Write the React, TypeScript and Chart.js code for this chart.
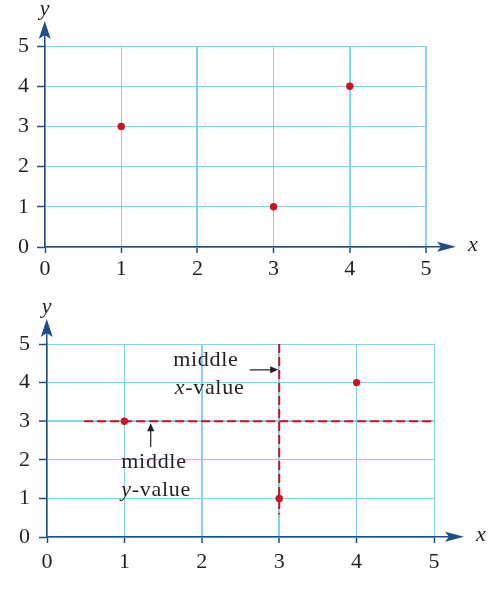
import React, { useEffect, useRef } from "react";
import { Chart, registerables } from "chart.js";

Chart.register(...registerables);

// ---- data ----
const xTicks = [0, 1, 2, 3, 4, 5];
const yTicks = [0, 1, 2, 3, 4, 5];
const pointX = [1, 3, 4];
const pointY = [3, 1, 4];
const middleX = 3; // middle x-value
const middleY = 3; // middle y-value
const middleXLineY = [5, 0.58]; // vertical dashed line y-extent
const middleYLineX = [0.48, 5]; // horizontal dashed line x-extent

// ---- styles ----
const GRID = "#80d2f2";
const AXIS = "#1f4d8c";
const RED = "#cc1420";
const TEXT = "#231f20";
const SERIF = "'Liberation Serif', 'Times New Roman', serif";

type Spec = {
  height: number;
  left: number;
  right: number;
  top: number;
  bottom: number;
  xPad: number;
  yPad: number;
  thickX: number[];
  thickY: number[];
  annotated: boolean;
};

const alignPx = (p: number, w: number) => Math.round(p - w / 2) + w / 2;

function dart(ctx: CanvasRenderingContext2D, tx: number, ty: number, dx: number, dy: number, L: number, W: number, N: number) {
  const nx = -dy, ny = dx;
  ctx.beginPath();
  ctx.moveTo(tx, ty);
  ctx.lineTo(tx - L * dx + W * nx, ty - L * dy + W * ny);
  ctx.lineTo(tx - (L - N) * dx, ty - (L - N) * dy);
  ctx.lineTo(tx - L * dx - W * nx, ty - L * dy - W * ny);
  ctx.closePath();
  ctx.fill();
}

function mixed(ctx: any, x: number, y: number, parts: [string, boolean][]) {
  let cx = x;
  ctx.letterSpacing = "0.7px";
  for (const [t, it] of parts) {
    ctx.font = `${it ? "italic " : ""}22px ${SERIF}`;
    ctx.fillText(t, cx, y);
    cx += ctx.measureText(t).width;
  }
  ctx.letterSpacing = "0px";
}

function makeDecor(annotated: boolean) {
  return {
    id: "decor",
    afterDraw(chart: any) {
      const { ctx, chartArea: a, scales } = chart;
      const xs = scales.x, ys = scales.y;
      const x0 = alignPx(xs.getPixelForValue(0), 1.5);
      const y0 = alignPx(ys.getPixelForValue(0), 1.5);
      ctx.save();
      ctx.strokeStyle = AXIS;
      ctx.fillStyle = AXIS;
      ctx.lineWidth = 1.5;
      // y axis extension + arrow
      const yTip = a.top - 25;
      ctx.beginPath();
      ctx.moveTo(x0, a.top);
      ctx.lineTo(x0, yTip + 14);
      ctx.stroke();
      dart(ctx, x0, yTip, 0, -1, 18, 6, 4);
      // x axis extension + arrow
      const xTip = a.right + 30;
      ctx.beginPath();
      ctx.moveTo(a.right, y0);
      ctx.lineTo(xTip - 14, y0);
      ctx.stroke();
      dart(ctx, xTip, y0, 1, 0, 19, 5, 4);
      // axis titles
      ctx.fillStyle = TEXT;
      ctx.font = `italic 22px ${SERIF}`;
      ctx.textAlign = "center";
      ctx.textBaseline = "middle";
      ctx.fillText("y", x0, a.top - 37);
      ctx.fillText("x", a.right + 47, y0 - 2);

      if (annotated) {
        const px = (v: number) => xs.getPixelForValue(v);
        const py = (v: number) => ys.getPixelForValue(v);
        ctx.textAlign = "left";
        mixed(ctx, px(1.63), py(4.58), [["middle", false]]);
        mixed(ctx, px(1.65), py(3.86), [["x", true], ["-value", false]]);
        mixed(ctx, px(0.96), py(1.94), [["middle", false]]);
        mixed(ctx, px(0.96), py(1.22), [["y", true], ["-value", false]]);
        ctx.strokeStyle = TEXT;
        ctx.fillStyle = TEXT;
        ctx.lineWidth = 1.2;
        // arrow to middle x line
        const ay = py(4.33);
        const ax1 = px(2.62), ax2 = px(middleX) - 1;
        ctx.beginPath();
        ctx.moveTo(ax1, ay);
        ctx.lineTo(ax2 - 6, ay);
        ctx.stroke();
        dart(ctx, ax2, ay, 1, 0, 8, 3.5, 0);
        // arrow to middle y line
        const bx = px(1.34);
        const by1 = py(2.33), by2 = py(middleY) + 2;
        ctx.beginPath();
        ctx.moveTo(bx, by1);
        ctx.lineTo(bx, by2 + 6);
        ctx.stroke();
        dart(ctx, bx, by2, 0, -1, 8, 3.5, 0);
      }
      ctx.restore();
    },
  };
}

function buildConfig(s: Spec): any {
  const points = pointX.map((x, i) => ({ x, y: pointY[i] }));
  const datasets: any[] = [
    {
      data: points,
      pointRadius: 3.7,
      pointBackgroundColor: RED,
      pointBorderWidth: 0,
      showLine: false,
    },
  ];
  if (s.annotated) {
    datasets.push(
      {
        data: [
          { x: middleYLineX[0], y: middleY },
          { x: middleYLineX[1], y: middleY },
        ],
        showLine: true,
        borderColor: RED,
        borderWidth: 2,
        borderDash: [9, 4],
        pointRadius: 0,
        fill: false,
      },
      {
        data: [
          { x: middleX, y: middleXLineY[0] },
          { x: middleX, y: middleXLineY[1] },
        ],
        showLine: true,
        borderColor: RED,
        borderWidth: 2,
        borderDash: [9, 4],
        pointRadius: 0,
        fill: false,
      }
    );
  }
  const font = { family: SERIF, size: 22 };
  return {
    type: "scatter",
    data: { datasets },
    options: {
      animation: false,
      responsive: false,
      devicePixelRatio: 1,
      layout: { padding: { left: 0, top: s.top, right: 493 - s.right, bottom: 0 } },
      plugins: { legend: { display: false }, tooltip: { enabled: false } },
      scales: {
        x: {
          type: "linear",
          position: "bottom",
          min: xTicks[0],
          max: xTicks[xTicks.length - 1],
          afterBuildTicks: (sc: any) => {
            sc.ticks = xTicks.map((v) => ({ value: v }));
          },
          afterFit: (sc: any) => {
            sc.height = s.height - s.bottom;
          },
          ticks: {
            color: TEXT,
            font,
            padding: s.xPad,
            maxRotation: 0,
            autoSkip: false,
            callback: (v: any) => String(v),
          },
          grid: {
            color: GRID,
            lineWidth: (c: any) => (c.tick && s.thickX.includes(c.tick.value) ? 2 : 1),
            tickColor: AXIS,
            tickLength: 6,
            tickWidth: 1.5,
          },
          border: { display: true, color: AXIS, width: 1.5 },
        },
        y: {
          type: "linear",
          position: "left",
          min: yTicks[0],
          max: yTicks[yTicks.length - 1],
          afterBuildTicks: (sc: any) => {
            sc.ticks = yTicks.map((v) => ({ value: v }));
          },
          afterFit: (sc: any) => {
            sc.width = s.left;
          },
          ticks: {
            color: TEXT,
            font,
            padding: s.yPad,
            autoSkip: false,
            callback: (v: any) => String(v),
          },
          grid: {
            color: GRID,
            lineWidth: (c: any) => (c.tick && s.thickY.includes(c.tick.value) ? 2 : 1),
            tickColor: AXIS,
            tickLength: 8,
            tickWidth: 1.5,
          },
          border: { display: true, color: AXIS, width: 1.5 },
        },
      },
    },
    plugins: [makeDecor(s.annotated)],
  };
}

function Plot({ spec, top }: { spec: Spec; top: number }) {
  const ref = useRef<HTMLCanvasElement | null>(null);
  useEffect(() => {
    if (!ref.current) return;
    const chart = new Chart(ref.current, buildConfig(spec));
    return () => chart.destroy();
  }, [spec]);
  return (
    <canvas
      ref={ref}
      width={493}
      height={spec.height}
      style={{ position: "absolute", left: 0, top, width: 493, height: spec.height, display: "block" }}
    />
  );
}

const topSpec: Spec = {
  height: 290,
  left: 45,
  right: 426,
  top: 46,
  bottom: 247,
  xPad: 3,
  yPad: 8,
  thickX: [2, 4, 5],
  thickY: [],
  annotated: false,
};

const bottomSpec: Spec = {
  height: 324,
  left: 47,
  right: 434,
  top: 54,
  bottom: 247,
  xPad: 6,
  yPad: 9,
  thickX: [2, 3],
  thickY: [3],
  annotated: true,
};

export default function App() {
  return (
    <div style={{ position: "absolute", left: 0, top: 0, width: 493, height: 614, background: "#fff" }}>
      <Plot spec={topSpec} top={0} />
      <Plot spec={bottomSpec} top={290} />
    </div>
  );
}
